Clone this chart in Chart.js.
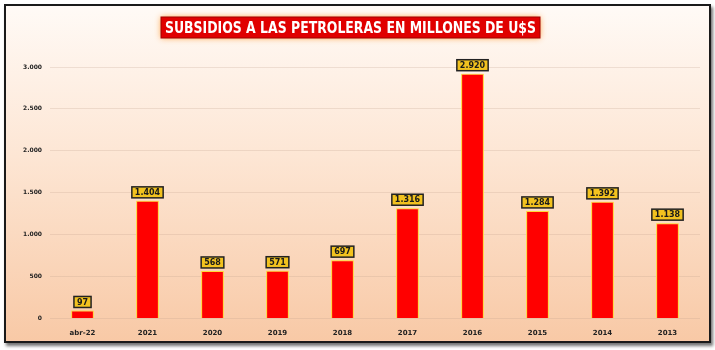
<!DOCTYPE html>
<html>
<head>
<meta charset="utf-8">
<script src="https://cdn.jsdelivr.net/npm/chart.js@4"></script>
<style>
  html, body { margin: 0; padding: 0; background: #fff; }
  #frame {
    position: absolute; left: 4px; top: 4px; width: 703px; height: 335px;
    border: 2px solid #1a1a1a;
    box-shadow: 2px 3px 3px rgba(0,0,0,0.55);
    background: linear-gradient(#fffaf6 0%, #fde6d4 45%, #f8c9a6 100%);
  }
  #wrap { position: absolute; left: 0; top: 0; width: 715px; height: 350px; }
</style>
</head>
<body>
<div id="frame"></div>
<div id="wrap"><canvas id="chart" width="715" height="350"></canvas></div>
<script>
const TITLE = 'SUBSIDIOS A LAS PETROLERAS EN MILLONES DE U$S'
const categories = ['abr-22', '2021', '2020', '2019', '2018', '2017', '2016', '2015', '2014', '2013']
const subsidies = [97, 1404, 568, 571, 697, 1316, 2920, 1284, 1392, 1138]
const yTicks = [0, 500, 1000, 1500, 2000, 2500, 3000]

const fmt = (v) => v.toLocaleString('de-DE')

const titleBox = {
  id: 'titleBox',
  afterDraw(chart) {
    const ctx = chart.ctx
    ctx.save()
    const x = 161, y = 17, w = 379, h = 21
    ctx.shadowColor = 'rgba(255,150,40,0.9)'
    ctx.shadowBlur = 6
    ctx.fillStyle = '#e00000'
    ctx.fillRect(x, y, w, h)
    ctx.shadowBlur = 0
    ctx.strokeStyle = '#a00000'
    ctx.lineWidth = 1
    ctx.strokeRect(x, y, w, h)
    ctx.font = 'bold 16px "Liberation Sans Narrow", "DejaVu Sans Condensed", sans-serif'
    const tw = ctx.measureText(TITLE).width
    const sx = (w - 8) / tw
    ctx.translate(x + w / 2, y + h / 2 + 1)
    ctx.scale(sx, 1)
    ctx.fillStyle = '#ffffff'
    ctx.textAlign = 'center'
    ctx.textBaseline = 'middle'
    ctx.fillText(TITLE, 0, 0)
    ctx.restore()
  }
}

const barGlow = {
  id: 'barGlow',
  beforeDatasetDraw(chart) {
    chart.ctx.save()
    chart.ctx.shadowColor = 'rgba(255,225,60,1)'
    chart.ctx.shadowBlur = 8
  },
  afterDatasetDraw(chart) {
    chart.ctx.restore()
  }
}

const valueLabels = {
  id: 'valueLabels',
  afterDatasetsDraw(chart) {
    const ctx = chart.ctx
    const meta = chart.getDatasetMeta(0)
    ctx.save()
    ctx.font = 'bold 8px "DejaVu Sans", sans-serif'
    ctx.textAlign = 'center'
    ctx.textBaseline = 'middle'
    meta.data.forEach((bar, i) => {
      const txt = fmt(subsidies[i])
      const w = ctx.measureText(txt).width + 6
      const h = 11
      const x = bar.x - w / 2
      const y = bar.y - h - 3
      ctx.fillStyle = '#f2c21f'
      ctx.fillRect(x, y, w, h)
      ctx.strokeStyle = '#222'
      ctx.lineWidth = 1.5
      ctx.strokeRect(x, y, w, h)
      ctx.fillStyle = '#1a1a1a'
      ctx.fillText(txt, bar.x, y + h / 2 + 0.5)
    })
    ctx.restore()
  }
}

new Chart(document.getElementById('chart'), {
  type: 'bar',
  data: {
    labels: categories,
    datasets: [{
      data: subsidies,
      backgroundColor: '#ff0000',
      borderColor: '#ffd23c',
      borderWidth: 1,
      barPercentage: 0.35,
      categoryPercentage: 1
    }]
  },
  options: {
    responsive: false,
    animation: false,
    layout: { padding: { top: 67, right: 15, bottom: 11, left: 8 } },
    plugins: {
      legend: { display: false },
      tooltip: { enabled: false }
    },
    scales: {
      x: {
        grid: { display: false },
        border: { display: false },
        ticks: { color: '#222', font: { family: '"DejaVu Sans", sans-serif', size: 7, weight: 'bold' }, padding: 2 }
      },
      y: {
        min: 0,
        max: 3000,
        afterBuildTicks: (s) => { s.ticks = yTicks.map(v => ({ value: v })) },
        afterFit: (s) => { s.width = 42 },
        grid: { color: 'rgba(190,160,140,0.25)', drawTicks: false },
        border: { display: false },
        ticks: {
          color: '#222',
          padding: 8,
          font: { family: '"DejaVu Sans", sans-serif', size: 6, weight: 'bold' },
          callback: (v) => fmt(v)
        }
      }
    }
  },
  plugins: [barGlow, valueLabels, titleBox]
})
</script>
</body>
</html>
